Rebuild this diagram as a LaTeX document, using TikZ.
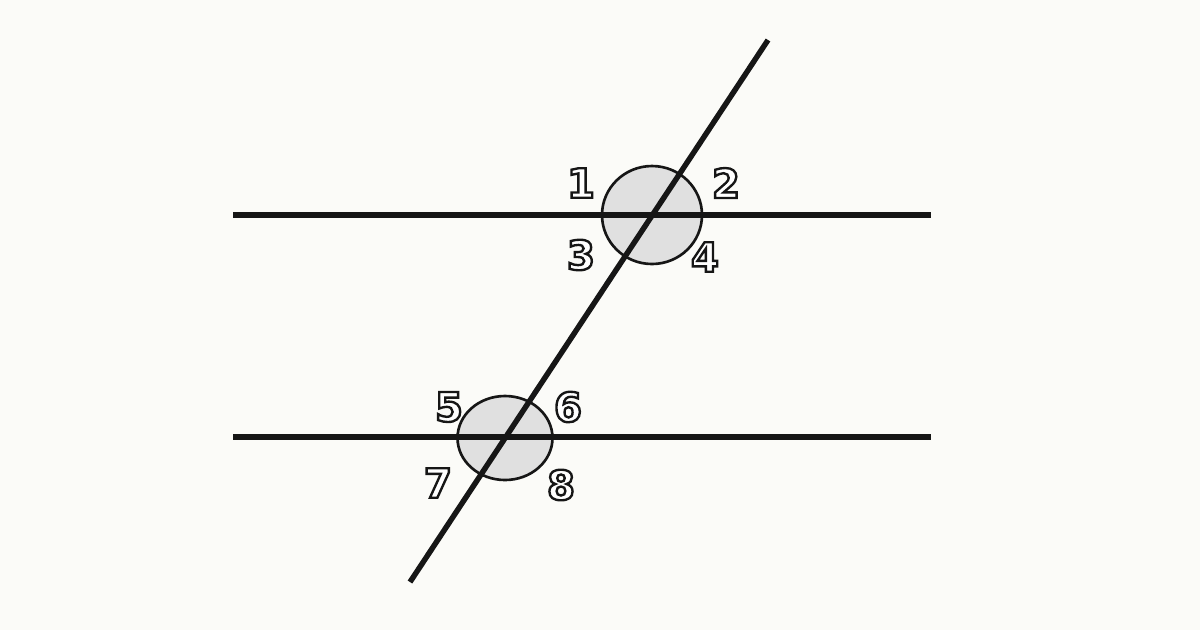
\documentclass[tikz,border=0pt]{standalone}
\usepackage{fontspec}
\setmainfont{DejaVu Sans}
\definecolor{bg}{HTML}{FBFBF8}
\definecolor{ink}{HTML}{161616}
\definecolor{shade}{HTML}{E0E0E0}
\newcommand\hollow[1]{\special{pdf:literal direct q 0.086 0.086 0.086 RG 2 Tr 1.35 w}#1\special{pdf:literal direct Q}}
\begin{document}
\begin{tikzpicture}[x=0.02cm,y=-0.02cm,
  mainline/.style={draw=ink,line width=3.1pt},
  angleoval/.style={draw=ink,fill=shade,line width=1.5pt},
  numlabel/.style={font=\bfseries\fontsize{23}{23}\selectfont,inner sep=0pt,text=white}]
\fill[bg] (0,0) rectangle (1200,630);
\useasboundingbox (0,0) rectangle (1200,630);
% key points
\coordinate (t1) at (233,215); \coordinate (t2) at (931,215);
\coordinate (b1) at (233,437); \coordinate (b2) at (931,437);
\coordinate (s1) at (768,40);  \coordinate (s2) at (410,582);
\coordinate (P) at (652,215);  \coordinate (Q) at (505,438);
% ovals
\path[angleoval] (P) ellipse [x radius=50, y radius=49];
\path[angleoval] (Q) ellipse [x radius=47.5, y radius=42];
% lines
\draw[mainline] (t1) -- (t2);
\draw[mainline] (b1) -- (b2);
\draw[mainline] (s1) -- (s2);
% labels
\foreach \n/\x/\y in {1/581/183,2/726/183,3/581/255,4/705/257,5/449/407,6/568/407,7/438/483,8/561/485}{
  \node[numlabel] (L\n) at (\x,\y) {\hollow{\n}};
}
\end{tikzpicture}
\end{document}
